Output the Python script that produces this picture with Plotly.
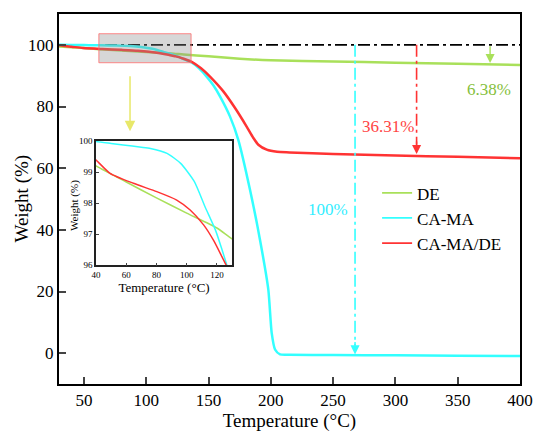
import plotly.graph_objects as go

# ---- data ----
temp_de = [30, 40, 60, 80, 100, 120, 130, 150, 175, 200, 250, 300, 350, 400]
w_de = [99.5, 99.2, 98.68, 98.17, 97.68, 97.2, 96.85, 96.3, 95.5, 95.0, 94.6, 94.2, 93.9, 93.5]

temp_ca = [30, 40, 50, 58, 70, 76, 87, 96, 105, 112, 119, 123.4, 126.6, 130, 136.5, 142,
           148.5, 154, 159.2, 167.2, 173.9, 183.3, 191.3, 198, 200.7, 203.4, 207.4, 215,
           250, 300, 350, 400]
w_ca = [100.0, 99.98, 99.92, 99.87, 99.8, 99.76, 99.6, 99.28, 98.7, 97.9, 97.14, 96.5, 96.0,
        95.4, 94.3, 92.5, 89.7, 86.8, 83.3, 76.8, 69.2, 53.0, 36.8, 20.6, 6.6, 1.2, -0.4, -0.5,
        -0.6, -0.7, -0.8, -0.9]

temp_cm = [30, 35, 40, 49.3, 64.7, 80.2, 93.4, 102.3, 111.2, 117.8, 123.4, 126.2, 130, 136.5,
           144, 151.2, 161.9, 171.3, 180.6, 186, 190, 196.7, 205, 215, 250, 300, 350, 400]
w_cm = [99.9, 99.6, 99.39, 98.96, 98.64, 98.37, 98.1, 97.78, 97.3, 96.8, 96.27, 96.0, 95.5,
        94.5, 92.4, 89.7, 84.9, 79.5, 73.5, 69.8, 67.6, 66.0, 65.3, 65.1, 64.6, 64.1, 63.7, 63.2]

series_names = ["DE", "CA-MA", "CA-MA/DE"]
loss_labels = ["6.38%", "100%", "36.31%"]
loss_x = [376, 267.6, 317]
loss_end = [94.1, -0.4, 64.6]

x_ticks = [50, 100, 150, 200, 250, 300, 350, 400]
y_ticks = [0, 20, 40, 60, 80, 100]
inset_x_ticks = [40, 60, 80, 100, 120]
inset_y_ticks = [96, 97, 98, 99, 100]

C_DE = "#a9e05a"
C_CA = "#33ffff"
C_CM = "#ff3333"
FONT = "Liberation Serif"
DASHDOT = "12px,4px,3px,4px"

fig = go.Figure()

# reference line at 100 %
fig.add_trace(go.Scatter(x=[30, 400], y=[100, 100], mode="lines", showlegend=False,
                         line=dict(color="black", width=1.6, dash=DASHDOT)))

# main curves
for t, w, c in [(temp_de, w_de, C_DE), (temp_ca, w_ca, C_CA), (temp_cm, w_cm, C_CM)]:
    fig.add_trace(go.Scatter(x=t, y=w, mode="lines", showlegend=False,
                             line=dict(color=c, width=2.5, shape="spline", smoothing=0.6)))

# legend entries (thin lines as in the reference)
for c, n in zip([C_DE, C_CA, C_CM], series_names):
    fig.add_trace(go.Scatter(x=[None], y=[None], mode="lines", name=n,
                             line=dict(color=c, width=1.8)))

# vertical dash-dot loss lines (cyan, red)
fig.add_trace(go.Scatter(x=[loss_x[1], loss_x[1]], y=[100, loss_end[1] + 3], mode="lines",
                         showlegend=False, line=dict(color=C_CA, width=1.6, dash=DASHDOT)))
fig.add_trace(go.Scatter(x=[loss_x[2], loss_x[2]], y=[100, loss_end[2] + 3], mode="lines",
                         showlegend=False, line=dict(color=C_CM, width=1.6, dash=DASHDOT)))

# inset curves
for t, w, c in [(temp_de, w_de, C_DE), (temp_ca, w_ca, C_CA), (temp_cm, w_cm, C_CM)]:
    fig.add_trace(go.Scatter(x=t, y=w, mode="lines", showlegend=False, xaxis="x2", yaxis="y2",
                             line=dict(color=c, width=1.5, shape="spline", smoothing=0.6)))

annotations = []
annotations.append(dict(x=loss_x[0], y=loss_end[0], ax=loss_x[0], ay=100, axref="x", ayref="y",
                        xref="x", yref="y", showarrow=True, arrowhead=2, arrowsize=1.3,
                        arrowwidth=1.4, arrowcolor=C_DE, text=""))
annotations.append(dict(x=loss_x[1], y=loss_end[1], ax=0, ay=-14, xref="x", yref="y",
                        showarrow=True, arrowhead=2, arrowsize=1.3, arrowwidth=1.4,
                        arrowcolor=C_CA, text=""))
annotations.append(dict(x=loss_x[2], y=loss_end[2], ax=0, ay=-14, xref="x", yref="y",
                        showarrow=True, arrowhead=2, arrowsize=1.3, arrowwidth=1.4,
                        arrowcolor=C_CM, text=""))
annotations.append(dict(x=87, y=72, ax=87, ay=90.3, axref="x", ayref="y", xref="x", yref="y",
                        showarrow=True, arrowhead=2, arrowsize=1.4, arrowwidth=1.5,
                        arrowcolor="#e8e86a", text=""))
annotations.append(dict(x=375, y=85.4, xref="x", yref="y", text=loss_labels[0], showarrow=False,
                        font=dict(family=FONT, size=17, color="#86bf3c")))
annotations.append(dict(x=246, y=46.5, xref="x", yref="y", text=loss_labels[1], showarrow=False,
                        font=dict(family=FONT, size=17, color="#33eeff")))
annotations.append(dict(x=294, y=73.5, xref="x", yref="y", text=loss_labels[2], showarrow=False,
                        font=dict(family=FONT, size=17, color="#ff4444")))
# axis titles placed like the reference
annotations.append(dict(x=-0.0813, y=0.5, xref="paper", yref="paper", text="Weight (%)",
                        textangle=-90, showarrow=False, xanchor="center", yanchor="middle",
                        font=dict(family=FONT, size=19, color="black")))
annotations.append(dict(x=0.0347, y=0.484, xref="paper", yref="paper", text="Weight (%)",
                        textangle=-90, showarrow=False, xanchor="center", yanchor="middle",
                        font=dict(family=FONT, size=11, color="black")))

shapes = [dict(type="rect", xref="x", yref="y", x0=62, x1=136, y0=94.2, y1=103.6,
               fillcolor="rgba(140,140,140,0.35)", line=dict(color="rgba(255,110,110,0.8)", width=1),
               layer="above")]

fig.update_layout(
    width=533, height=434,
    margin=dict(l=59, r=13, t=14, b=50, autoexpand=False),
    paper_bgcolor="white", plot_bgcolor="white",
    font=dict(family=FONT, size=17, color="black"),
    showlegend=True,
    legend=dict(x=0.69, y=0.564, xanchor="left", yanchor="top", bgcolor="rgba(0,0,0,0)",
                font=dict(family=FONT, size=17), tracegroupgap=0),
    xaxis=dict(range=[30, 400], tickvals=x_ticks, ticks="inside", ticklen=7, tickwidth=2,
               showline=True, linewidth=2, linecolor="black", mirror=True, showgrid=False,
               zeroline=False, automargin=False,
               title=dict(text="Temperature (°C)", font=dict(family=FONT, size=19), standoff=4),
               tickfont=dict(family=FONT, size=17)),
    yaxis=dict(range=[-10, 110], tickvals=y_ticks, ticks="inside", ticklen=7, tickwidth=2,
               showline=True, linewidth=2, linecolor="black", mirror=True, showgrid=False,
               zeroline=False, automargin=False, tickfont=dict(family=FONT, size=17)),
    xaxis2=dict(domain=[0.0803, 0.3753], anchor="y2", range=[40, 130], tickvals=inset_x_ticks,
                ticks="inside", ticklen=3, tickwidth=1, showline=True, linewidth=1.5,
                linecolor="#222", mirror=True, showgrid=False, zeroline=False, automargin=False,
                tickfont=dict(family=FONT, size=9),
                title=dict(text="Temperature (°C)", font=dict(family=FONT, size=13), standoff=2)),
    yaxis2=dict(domain=[0.3208, 0.6568], anchor="x2", range=[96, 100], tickvals=inset_y_ticks,
                ticks="inside", ticklen=3, tickwidth=1, showline=True, linewidth=1.5,
                linecolor="#222", mirror=True, showgrid=False, zeroline=False, automargin=False,
                tickfont=dict(family=FONT, size=9)),
    annotations=annotations,
    shapes=shapes,
)

fig.write_html("out.html")
